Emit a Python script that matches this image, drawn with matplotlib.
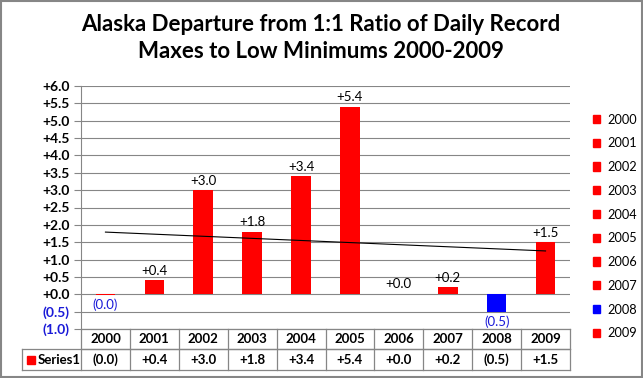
import matplotlib
matplotlib.use('Agg')
import matplotlib.pyplot as plt
import numpy as np
from matplotlib.patches import Rectangle
from matplotlib.lines import Line2D
import matplotlib.transforms as mtransforms

years = ['2000', '2001', '2002', '2003', '2004', '2005', '2006', '2007', '2008', '2009']
values = [-0.02, 0.4, 3.0, 1.8, 3.4, 5.4, 0.02, 0.2, -0.5, 1.5]
bar_colors = ['#FF0000'] * 8 + ['#0000FF', '#FF0000']
series_name = 'Series1'
title = 'Alaska Departure from 1:1 Ratio of Daily Record\nMaxes to Low Minimums 2000-2009'

NEG_BLUE = '#1A1AD8'
GRID = '#868686'
FONT = 'Lato'


def fmt(v):
    if v < 0:
        return '(%.1f)' % abs(v)
    return '+%.1f' % abs(v)


W, H = 643, 378
fig = plt.figure(figsize=(W / 100, H / 100), dpi=100)
L, R, T, B = 81, 570, 86, 329
ax = fig.add_axes([L / W, 1 - B / H, (R - L) / W, (B - T) / H])

x = np.arange(len(years))
ax.bar(x, values, width=0.4, color=bar_colors, zorder=3)

# trendline
z = np.polyfit(x, values, 1)
p = np.poly1d(z)
ax.plot(x, p(x), color='black', linewidth=0.8, zorder=4)

# data labels
for i, v in enumerate(values):
    if v < 0:
        ax.text(i, v - 0.1, fmt(v), ha='center', va='top', fontsize=9.5,
                color=NEG_BLUE, family=FONT, zorder=5)
    else:
        ax.text(i, v + 0.1, fmt(v), ha='center', va='bottom', fontsize=9.5,
                color='black', family=FONT, zorder=5)

ax.set_xlim(-0.5, len(years) - 0.5)
ax.set_ylim(-1.0, 6.0)
yt = np.arange(-1.0, 6.01, 0.5)
ax.set_yticks(yt)
ax.set_yticklabels([fmt(v) for v in yt], family=FONT, fontweight='bold', fontsize=10)
for lab, v in zip(ax.get_yticklabels(), yt):
    lab.set_color(NEG_BLUE if v < 0 else 'black')
ax.set_xticks([])
ax.grid(axis='y', color=GRID, linewidth=0.8, zorder=0)
for s in ['top', 'right', 'bottom']:
    ax.spines[s].set_visible(False)
ax.spines['left'].set_color(GRID)
ax.tick_params(axis='y', length=5, color=GRID, pad=3)

# data table below the plot
ah = B - T
aw = R - L
r1 = -20 / ah
r2 = -41 / ah
lab_left = (22 - L) / aw
tr = mtransforms.blended_transform_factory(ax.transData, ax.transAxes)
lk = dict(color=GRID, linewidth=0.9, clip_on=False, transform=ax.transAxes)
ax.add_line(Line2D([0, 1], [0, 0], **lk))
ax.add_line(Line2D([0, 1], [r1, r1], **lk))
ax.add_line(Line2D([lab_left, 1], [r1, r1], **lk))
ax.add_line(Line2D([lab_left, 1], [r2, r2], **lk))
ax.add_line(Line2D([lab_left, lab_left], [r1, r2], **lk))
for k in range(len(years) + 1):
    xa = k / len(years)
    ax.add_line(Line2D([xa, xa], [0, r2], **lk))
for i, (yr, v) in enumerate(zip(years, values)):
    ax.text(i, r1 / 2, yr, transform=tr, ha='center', va='center', fontsize=9.5,
            fontweight='bold', family=FONT, clip_on=False)
    ax.text(i, (r1 + r2) / 2, fmt(v), transform=tr, ha='center', va='center',
            fontsize=9.5, fontweight='bold', family=FONT, clip_on=False)
ax.add_patch(Rectangle((lab_left + 5 / aw, (r1 + r2) / 2 - 4 / ah), 8 / aw, 8 / ah,
                       transform=ax.transAxes, color='#FF0000', clip_on=False))
ax.text(lab_left + 16 / aw, (r1 + r2) / 2, series_name, transform=ax.transAxes,
        ha='left', va='center', fontsize=9.5, fontweight='bold', family=FONT)

# legend on the right
handles = [Rectangle((0, 0), 1, 1, color=c) for c in bar_colors]
leg = fig.legend(handles, years, loc='upper left', bbox_to_anchor=(581 / W, 1 - 102 / H),
                 frameon=False, handlelength=0.6, handleheight=0.6, handletextpad=0.55,
                 labelspacing=0.92, prop={'family': FONT, 'size': 9.2})

fig.suptitle(title, x=321 / W, y=1 - 14 / H, va='top', fontsize=16,
             fontweight='bold', family=FONT, linespacing=1.35)

fig.patches.append(Rectangle((0.001, 0.002), 0.997, 0.996, transform=fig.transFigure,
                             fill=False, edgecolor=GRID, linewidth=1.5))

fig.savefig('out.png', dpi=100)
